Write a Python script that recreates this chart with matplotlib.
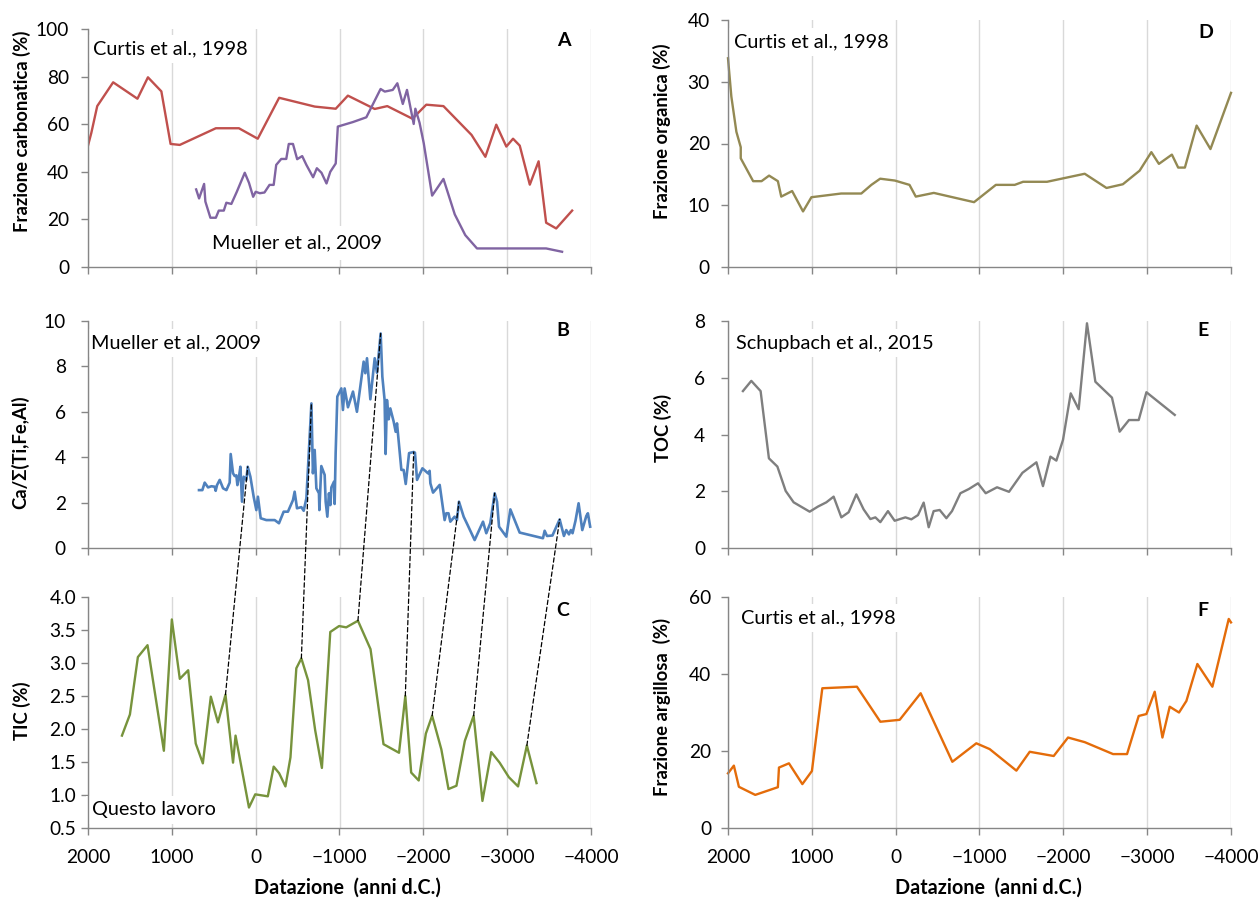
import matplotlib
matplotlib.use("Agg")
import matplotlib.pyplot as plt
import matplotlib.transforms as mtransforms
from matplotlib.patches import ConnectionPatch
import numpy as np

plt.rcParams['font.family'] = ['Lato', 'DejaVu Sans']

# ---------------- data ----------------
# A: carbonate fraction
carb_curtis_years = [2000, 1960, 1890, 1700, 1410, 1285, 1125, 1015, 905, 475, 200, -25, -280, -705,
                     -955, -1100, -1420, -1570, -1870, -2035, -2240, -2575, -2740, -2870, -2990,
                     -3070, -3150, -3270, -3375, -3465, -3585, -3775]
carb_curtis_vals = [51.0, 56.4, 67.6, 77.6, 70.7, 79.7, 73.8, 51.7, 51.3, 58.3, 58.3, 53.9, 71.1, 67.4,
                    66.5, 72.0, 66.4, 67.6, 62.3, 68.2, 67.6, 55.5, 46.3, 59.8, 50.6,
                    53.9, 51.0, 34.6, 44.4, 18.6, 16.2, 23.7]

carb_mueller_years = [710, 675, 615, 600, 540, 475, 440, 380, 350, 290, 225, 130, 80, 30, 0, -50, -105,
                      -165, -215, -245, -305, -365, -395, -445, -495, -555, -605, -685, -730, -785,
                      -845, -890, -955, -980, -1160, -1320, -1490, -1540, -1635, -1690, -1755, -1805,
                      -1885, -1905, -1955, -2005, -2105, -2240, -2375, -2500, -2640, -3465, -3655]
carb_mueller_vals = [32.6, 28.8, 34.9, 27.5, 20.7, 20.7, 23.7, 23.7, 27.0, 26.5, 31.6, 39.6, 35.4, 29.5,
                     31.6, 31.0, 31.3, 34.5, 34.5, 42.9, 45.4, 45.4, 51.7, 51.7, 45.3, 46.6, 42.9,
                     37.7, 41.5, 39.6, 35.1, 40.0, 43.5, 59.0, 60.9, 62.9, 74.8, 73.7, 74.4, 77.2,
                     68.5, 74.4, 60.1, 66.5, 60.6, 52.0, 30.0, 37.0, 22.1, 13.4, 7.8, 7.8, 6.4]

# B: Ca / sum(Ti, Fe, Al)
ca_years = [676, 636, 608, 568, 528, 489, 477, 461, 429, 389, 349, 310, 298, 270, 250, 230, 218, 199,
            182, 163, 143, 111, 95, 63, 24, -8, -27, -60, -127, -227, -278, -334, -385, -445, -465,
            -493, -545, -573, -605, -636, -665, -683, -704, -724, -755, -760, -783, -823, -835,
            -855, -874, -891, -903, -934, -942, -954, -974, -1022, -1041, -1061, -1101, -1161,
            -1208, -1288, -1308, -1328, -1368, -1420, -1447, -1491, -1511, -1538, -1550, -1566,
            -1586, -1606, -1646, -1670, -1686, -1738, -1765, -1790, -1830, -1885, -1900, -1925,
            -1989, -2056, -2075, -2084, -2116, -2195, -2254, -2274, -2300, -2322, -2373, -2401,
            -2425, -2481, -2530, -2612, -2712, -2751, -2799, -2851, -2879, -2903, -2990, -3038,
            -3149, -3427, -3447, -3475, -3540, -3626, -3677, -3705, -3737, -3760, -3780, -3793,
            -3815, -3852, -3896, -3944, -3963, -3990]
ca_vals = [2.55, 2.55, 2.88, 2.67, 2.72, 2.70, 2.52, 2.77, 3.00, 2.63, 2.55, 2.88, 4.14, 3.29, 3.17,
           3.20, 2.77, 3.14, 3.58, 2.04, 3.14, 3.00, 3.58, 3.14, 2.26, 1.67, 2.26, 1.31, 1.23, 1.23,
           1.09, 1.60, 1.60, 2.11, 2.48, 1.75, 1.80, 1.64, 2.19, 4.32, 6.37, 3.29, 4.32, 2.63, 2.41,
           1.67, 3.61, 3.22, 2.04, 1.38, 2.41, 1.89, 2.67, 2.92, 1.94, 4.17, 6.67, 7.03, 6.08, 7.03,
           6.20, 6.89, 6.00, 8.21, 7.70, 8.36, 6.55, 8.36, 7.72, 9.45, 7.55, 6.52, 4.14, 6.52, 5.67,
           6.15, 5.57, 5.12, 5.49, 3.44, 3.44, 2.82, 4.18, 4.23, 4.20, 3.00, 3.51, 3.29, 3.40, 2.85,
           2.44, 2.78, 1.23, 1.53, 1.53, 1.16, 1.38, 1.23, 2.04, 1.38, 1.00, 0.35, 1.16, 0.65, 1.10,
           2.41, 2.04, 0.94, 0.50, 1.70, 0.68, 0.43, 0.76, 0.53, 0.55, 1.26, 0.53, 0.79, 0.60, 0.79,
           0.65, 0.85, 1.20, 1.97, 0.79, 1.41, 1.53, 0.94]

# C: TIC
tic_years = [1595, 1500, 1405, 1290, 1095, 1000, 905, 805, 715, 630, 535, 450, 360, 270, 240, 80, 5,
             -145, -215, -280, -355, -415, -485, -545, -625, -710, -790, -890, -995, -1080, -1220,
             -1370, -1525, -1710, -1785, -1855, -1945, -2030, -2105, -2215, -2300, -2395, -2495,
             -2600, -2705, -2810, -2910, -3020, -3130, -3235, -3350]
tic_vals = [1.90, 2.22, 3.09, 3.27, 1.67, 3.66, 2.76, 2.89, 1.78, 1.48, 2.49, 2.10, 2.52, 1.49, 1.90,
            0.81, 1.01, 0.98, 1.43, 1.33, 1.13, 1.57, 2.92, 3.07, 2.74, 1.98, 1.41, 3.47, 3.56, 3.54,
            3.64, 3.21, 1.77, 1.64, 2.50, 1.34, 1.22, 1.93, 2.20, 1.69, 1.09, 1.14, 1.82, 2.20, 0.91,
            1.65, 1.49, 1.27, 1.13, 1.75, 1.18]

# tie points: (TIC year, Ca ratio year)
tie_pairs = [(360, 95), (-545, -665), (-1220, -1491), (-1785, -1885),
             (-2105, -2425), (-2600, -2851), (-3235, -3626)]

# D: organic fraction
org_years = [2000, 1960, 1900, 1848, 1848, 1700, 1600, 1510, 1405, 1365, 1235, 1105, 1005, 650, 410,
             290, 185, 10, -165, -240, -455, -935, -1195, -1420, -1520, -1805, -2255, -2515, -2710,
             -2910, -3050, -3140, -3295, -3370, -3450, -3590, -3755, -4000]
org_vals = [33.8, 27.6, 21.9, 19.4, 17.6, 13.9, 13.9, 14.8, 13.9, 11.4, 12.3, 9.0, 11.3, 11.9, 11.9,
            13.3, 14.3, 14.0, 13.3, 11.4, 12.0, 10.5, 13.3, 13.3, 13.8, 13.8, 15.1, 12.8, 13.4,
            15.6, 18.6, 16.7, 18.2, 16.1, 16.1, 22.9, 19.1, 28.2]

# E: TOC
toc_years = [1822, 1722, 1611, 1512, 1411, 1312, 1217, 1026, 927, 827, 740, 648, 561, 469, 382, 302,
             242, 183, 92, 12, -116, -187, -266, -334, -394, -453, -525, -605, -672, -772, -874,
             -982, -1074, -1209, -1352, -1512, -1679, -1757, -1846, -1917, -1996, -2088, -2183,
             -2282, -2382, -2580, -2672, -2783, -2899, -2991, -3329]
toc_vals = [5.53, 5.89, 5.53, 3.16, 2.87, 2.01, 1.61, 1.28, 1.46, 1.61, 1.81, 1.08, 1.26, 1.89, 1.36,
            1.02, 1.08, 0.91, 1.30, 0.96, 1.08, 1.01, 1.16, 1.60, 0.73, 1.30, 1.34, 1.05, 1.30, 1.93,
            2.08, 2.28, 1.93, 2.14, 1.98, 2.65, 3.02, 2.18, 3.22, 3.08, 3.81, 5.45, 4.89, 7.92, 5.86,
            5.30, 4.10, 4.51, 4.51, 5.49, 4.69]

# F: clay fraction
clay_years = [2000, 1930, 1870, 1675, 1405, 1392, 1273, 1113, 999, 875, 462, 183, -48, -298, -676,
              -962, -1121, -1440, -1599, -1885, -2056, -2255, -2593, -2760, -2899, -2991, -3090,
              -3182, -3269, -3380, -3468, -3599, -3778, -3973, -4000]
clay_vals = [14.2, 16.2, 10.7, 8.6, 10.6, 15.7, 16.8, 11.4, 14.8, 36.3, 36.7, 27.6, 28.1, 35.0, 17.2,
             22.0, 20.5, 14.9, 19.8, 18.7, 23.5, 22.3, 19.2, 19.2, 29.1, 29.6, 35.4, 23.5, 31.5,
             30.0, 33.0, 42.6, 36.7, 54.3, 53.4]

x_ticks = [2000, 1000, 0, -1000, -2000, -3000, -4000]

# ---------------- figure ----------------
W, H = 1260, 899
fig = plt.figure(figsize=(W / 100, H / 100), dpi=100)
px = mtransforms.Affine2D().scale(1 / W, -1 / H).translate(0, 1) + fig.transFigure

GRID = '#d9d9d9'
AXC = '#868686'


def make_axes(left, top, right, bottom):
    return fig.add_axes([left / W, 1 - bottom / H, (right - left) / W, (bottom - top) / H])


def style(ax, ylim, yticks, ypad, fmt=None, xlabels=False):
    ax.set_xlim(2000, -4000)
    ax.set_xticks(x_ticks)
    ax.set_ylim(*ylim)
    ax.set_yticks(yticks)
    if fmt:
        ax.set_yticklabels([fmt.format(v) for v in yticks])
    ax.set_axisbelow(True)
    ax.grid(axis='x', color=GRID, lw=1.0, zorder=0)
    for s in ('top', 'right'):
        ax.spines[s].set_visible(False)
    for s in ('left', 'bottom'):
        ax.spines[s].set_color(AXC)
        ax.spines[s].set_linewidth(1.0)
    ax.tick_params(axis='both', direction='out', length=5, width=1, color=AXC,
                   labelsize=13.8, labelcolor='black')
    ax.tick_params(axis='y', pad=ypad)
    ax.tick_params(axis='x', pad=10, labelbottom=xlabels)


def note(ax, x, y, s, pad=0.3):
    ax.text(x, y, s, transform=px, fontsize=14.3, ha='left', va='center', zorder=1,
            bbox=dict(boxstyle='square,pad=%g' % pad, facecolor='white', edgecolor='none'),
            clip_on=False)


def letter(ax, x, y, s):
    ax.text(x, y, s, transform=px, fontsize=14, fontweight='bold', ha='center', va='center')


def ylabel(x, y, s):
    fig.text(x / W, 1 - y / H, s, rotation=90, ha='center', va='center',
             fontsize=13.3, fontweight='bold')


axA = make_axes(88, 29, 591, 267)
axB = make_axes(88, 321, 591, 548)
axC = make_axes(88, 597, 591, 828)
axD = make_axes(728, 20, 1231, 267)
axE = make_axes(728, 321, 1231, 548)
axF = make_axes(728, 597, 1231, 828)

style(axA, (0, 100), [0, 20, 40, 60, 80, 100], 8.5)
style(axB, (0, 10), [0, 2, 4, 6, 8, 10], 11)
style(axC, (0.5, 4.0), list(np.arange(0.5, 4.01, 0.5)), 3.5, fmt='{:.1f}', xlabels=True)
style(axD, (0, 40), [0, 10, 20, 30, 40], 8)
style(axE, (0, 8), [0, 2, 4, 6, 8], 11.5)
style(axF, (0, 60), [0, 20, 40, 60], 7, xlabels=True)

axA.plot(carb_curtis_years, carb_curtis_vals, color='#c0504d', lw=1.7, zorder=2)
axA.plot(carb_mueller_years, carb_mueller_vals, color='#8064a2', lw=1.7, zorder=3)
axB.plot(ca_years, ca_vals, color='#4f81bd', lw=1.9, zorder=2, clip_on=False)
axC.plot(tic_years, tic_vals, color='#77933c', lw=1.7, zorder=2)
axD.plot(org_years, org_vals, color='#938953', lw=1.7, zorder=2, clip_on=False)
axE.plot(toc_years, toc_vals, color='#7f7f7f', lw=1.7, zorder=2)
axF.plot(clay_years, clay_vals, color='#e46c0a', lw=1.7, zorder=2, clip_on=False)

# dashed tie lines between TIC peaks and Ca-ratio peaks
for ty, cy in tie_pairs:
    tv = tic_vals[tic_years.index(ty)]
    cv = ca_vals[ca_years.index(cy)]
    con = ConnectionPatch(xyA=(ty, tv), coordsA=axC.transData,
                          xyB=(cy, cv), coordsB=axB.transData,
                          color='black', lw=0.9, linestyle=(0, (3.5, 2.2)), zorder=5)
    fig.add_artist(con)

note(axA, 93, 49, 'Curtis et al., 1998')
note(axA, 212, 243, 'Mueller et al., 2009', pad=0.45)
note(axB, 91, 343, 'Mueller et al., 2009')
note(axC, 92, 810, 'Questo lavoro')
note(axD, 734, 42, 'Curtis et al., 1998')
note(axE, 736, 343, 'Schupbach et al., 2015')
note(axF, 741, 618, 'Curtis et al., 1998')

letter(axA, 564, 40, 'A')
letter(axB, 563, 330, 'B')
letter(axC, 563, 611, 'C')
letter(axD, 1206, 32, 'D')
letter(axE, 1203, 331, 'E')
letter(axF, 1203, 611, 'F')

ylabel(22, 131, 'Frazione carbonatica (%)')
ylabel(20, 452, 'Ca/Σ(Ti,Fe,Al)')
ylabel(22, 711, 'TIC (%)')
ylabel(662, 131, 'Frazione organica (%)')
ylabel(663, 428, 'TOC (%)')
ylabel(662, 707, 'Frazione argillosa  (%)')

for xc in (347, 988):
    fig.text(xc / W, 1 - 888 / H, 'Datazione  (anni d.C.)', ha='center', va='center',
             fontsize=14.2, fontweight='bold')

fig.savefig('out.png', dpi=100)
